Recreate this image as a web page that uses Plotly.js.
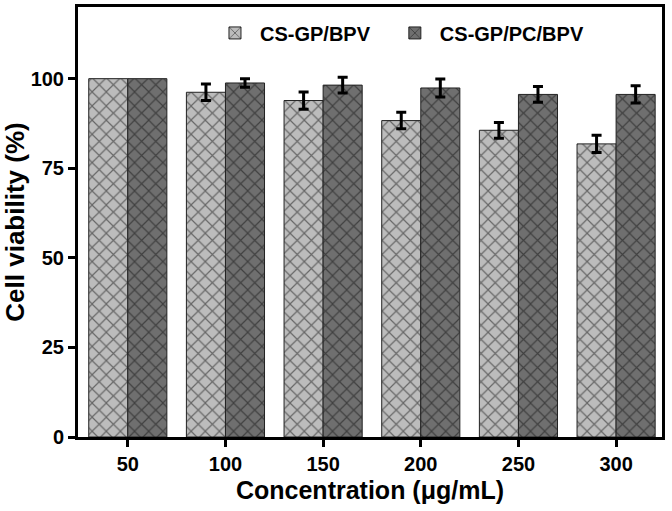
<!DOCTYPE html>
<html>
<head>
<meta charset="utf-8">
<script src="https://cdn.plot.ly/plotly-3.0.1.min.js"></script>
<style>html,body{margin:0;padding:0;background:#fff;}#chart{width:672px;height:511px;}</style>
</head>
<body>
<div id="chart"></div>
<script>
const categories = ["50", "100", "150", "200", "250", "300"];
const seriesNames = ["CS-GP/BPV", "CS-GP/PC/BPV"];
const bpvValues = [100, 96.2, 93.9, 88.3, 85.6, 81.8];
const bpvErrors = [NaN, 2.3, 2.4, 2.3, 2.2, 2.4];
const pcValues = [100, 98.8, 98.2, 97.4, 95.6, 95.6];
const pcErrors = [NaN, 1.2, 2.2, 2.5, 2.2, 2.4];
const yTicks = [0, 25, 50, 75, 100];

const font = {family: "Liberation Sans, Arial, sans-serif", color: "#000"};
function barTrace(name, y, err, bg, legendId) {
  return {
    type: "bar", name: name, x: categories, y: y, legend: legendId,
    marker: {color: bg, line: {color: "#222", width: 1},
      pattern: {shape: "x", fgcolor: "#111", bgcolor: bg, size: 10, solidity: 0.22, fillmode: "overlay"}},
    error_y: {type: "data", array: err, visible: true, color: "#000", thickness: 3, width: 5}
  };
}
const data = [
  barTrace(seriesNames[0], bpvValues, bpvErrors, "#bcbcbc", "legend"),
  barTrace(seriesNames[1], pcValues, pcErrors, "#6f6f6f", "legend2")
];
const legendFont = {family: font.family, size: 20, color: "#000", weight: "bold"};
const layout = {
  width: 672, height: 511,
  margin: {l: 78, r: 10, t: 7, b: 74},
  paper_bgcolor: "#fff", plot_bgcolor: "#fff",
  barmode: "group", bargap: 0.2, bargroupgap: 0,
  font: font,
  showlegend: true,
  legend: {orientation: "h", x: 0.226, xanchor: "left", y: 0.985, yanchor: "top",
    font: legendFont, bgcolor: "rgba(0,0,0,0)", itemwidth: 40},
  legend2: {orientation: "h", x: 0.534, xanchor: "left", y: 0.985, yanchor: "top",
    font: legendFont, bgcolor: "rgba(0,0,0,0)", itemwidth: 40},
  xaxis: {
    type: "category", range: [-0.51, 5.47],
    showline: true, linecolor: "#000", linewidth: 3, mirror: true,
    ticks: "outside", ticklen: 7, tickwidth: 3, tickcolor: "#000",
    minor: {ticks: "outside", ticklen: 5, tickwidth: 3, tickcolor: "#000"},
    showgrid: false, zeroline: false,
    tickfont: {family: font.family, size: 20, color: "#000", weight: "bold"},
    title: {text: "Concentration (μg/mL)", standoff: 8, font: {family: font.family, size: 25, color: "#000", weight: "bold"}}
  },
  yaxis: {
    range: [0, 120], tickvals: yTicks,
    showline: true, linecolor: "#000", linewidth: 3, mirror: true,
    ticks: "outside", ticklen: 7, tickwidth: 3, tickcolor: "#000",
    showgrid: false, zeroline: false,
    tickfont: {family: font.family, size: 20, color: "#000", weight: "bold"},
    title: {text: "Cell viability (%)", standoff: 0, font: {family: font.family, size: 26, color: "#000", weight: "bold"}}
  }
};
Plotly.newPlot("chart", data, layout, {displayModeBar: false, staticPlot: true});
</script>
</body>
</html>
